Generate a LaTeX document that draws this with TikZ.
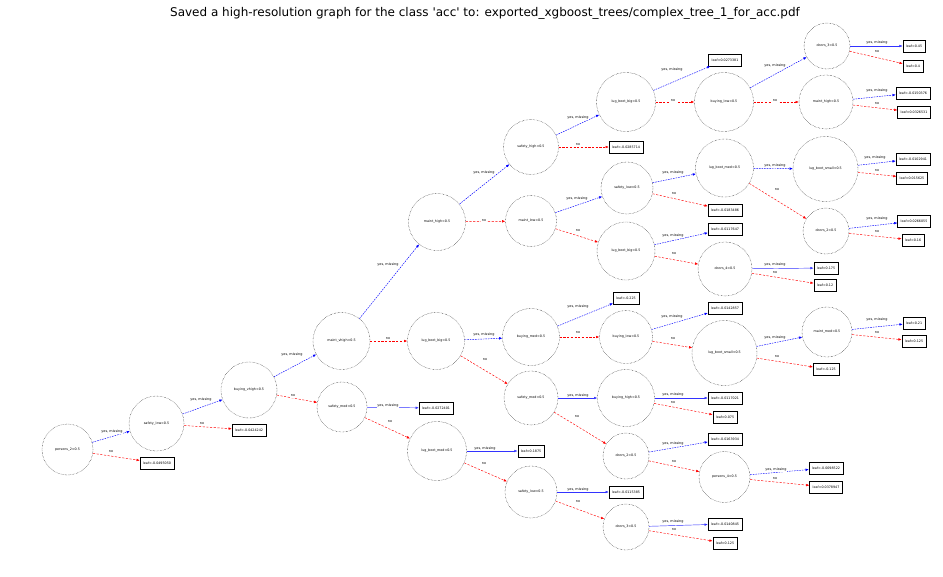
\documentclass[tikz,border=0pt]{standalone}
\usepackage{fontspec}
\setmainfont{DejaVu Sans}
\usetikzlibrary{arrows.meta}
\newcommand\nodefont{\fontsize{3.3}{3.6}\selectfont}
\newcommand\lblfont{\fontsize{3.4}{3.8}\selectfont}
\newcommand\ylab[2]{\node[elab] (#1) at (#2) {yes, missing};}
\newcommand\nlab[2]{\node[elab] (#1) at (#2) {no};}
\begin{document}
\begin{tikzpicture}[x=1pt,y=-1pt,
  dec/.style={circle, draw=black, densely dotted, line width=0.4pt, minimum size=#1, inner sep=0pt, font=\nodefont},
  leaf/.style={rectangle, draw=black, line width=0.5pt, minimum height=12pt, inner xsep=3pt, inner ysep=0pt, font=\nodefont},
  yesE/.style={draw=blue, dash pattern=on 1.6pt off 1pt, line width=0.45pt, -{Latex[length=3.2pt,width=2.6pt]}},
  yesS/.style={draw=blue!80, line width=0.45pt, -{Latex[length=3.2pt,width=2.6pt]}},
  noE/.style={draw=red, dash pattern=on 2.2pt off 1.5pt, line width=0.45pt, -{Latex[length=3.2pt,width=2.6pt]}},
  elab/.style={font=\lblfont, inner sep=0.6pt, fill=white}]
\fill[white] (0,0) rectangle (943,576);
\useasboundingbox (0,0) rectangle (943,576);

\node[font=\fontsize{12}{14}\selectfont, inner sep=0pt] (title) at (485,13) {Saved a high-resolution graph for the class \textquotesingle acc\textquotesingle\ to: exported\_xgboost\_trees/complex\_tree\_1\_for\_acc.pdf};

% decision nodes
\node[dec=51] (n0) at (67.5,449.5) {persons\_2<0.5};
\node[dec=55] (n1) at (156.5,423.5) {safety\_low<0.5};
\node[dec=56] (n2) at (249,390) {buying\_vhigh<0.5};
\node[dec=57] (n3) at (341.5,341) {maint\_vhigh<0.5};
\node[dec=50] (n4) at (342,407) {safety\_med<0.5};
\node[dec=57] (n5) at (437,222) {maint\_high<0.5};
\node[dec=57] (n6) at (436,341) {lug\_boot\_big<0.5};
\node[dec=59] (n7) at (437,451) {lug\_boot\_med<0.5};
\node[dec=55] (n8) at (531,147) {safety\_high<0.5};
\node[dec=51] (n9) at (531,221) {maint\_low<0.5};
\node[dec=57] (n10) at (531,337) {buying\_med<0.5};
\node[dec=54] (n11) at (531,398) {safety\_med<0.5};
\node[dec=52] (n12) at (531,492) {safety\_low<0.5};
\node[dec=59] (n13) at (626,102) {lug\_boot\_big<0.5};
\node[dec=52] (n14) at (627,188) {safety\_low<0.5};
\node[dec=58] (n15) at (626,251) {lug\_boot\_big<0.5};
\node[dec=53] (n16) at (626,337) {buying\_low<0.5};
\node[dec=57] (n17) at (626,398) {buying\_high<0.5};
\node[dec=46] (n18) at (626,456) {doors\_2<0.5};
\node[dec=46] (n19) at (626,527) {doors\_3<0.5};
\node[dec=59] (n20) at (724,102) {buying\_low<0.5};
\node[dec=58] (n21) at (724.5,168) {lug\_boot\_med<0.5};
\node[dec=54] (n22) at (725,269) {doors\_4<0.5};
\node[dec=65] (n23) at (724.5,353) {lug\_boot\_small<0.5};
\node[dec=51] (n24) at (724.5,477) {persons\_4<0.5};
\node[dec=46] (n25) at (827,46) {doors\_3<0.5};
\node[dec=54] (n26) at (826,102) {maint\_high<0.5};
\node[dec=65] (n27) at (825.5,169) {lug\_boot\_small<0.5};
\node[dec=46] (n28) at (826,231) {doors\_2<0.5};
\node[dec=50] (n29) at (827,332) {maint\_med<0.5};

% leaves
\node[leaf] (l0) at (157,463) {leaf=-0.0495050};
\node[leaf] (l1) at (249,430) {leaf=-0.0424242};
\node[leaf] (l4) at (436,408) {leaf=-0.0272401};
\node[leaf] (l7) at (531,451) {leaf=0.1875};
\node[leaf] (l8) at (626,147) {leaf=-0.0285714};
\node[leaf] (l10) at (626,298) {leaf=-0.225};
\node[leaf] (l12) at (626,492) {leaf=-0.0115385};
\node[leaf] (l13) at (725,60) {leaf=0.0273381};
\node[leaf] (l14) at (725,210) {leaf=-0.0183486};
\node[leaf] (l15) at (725,229) {leaf=-0.0117647};
\node[leaf] (l16) at (725,308) {leaf=-0.0142857};
\node[leaf] (l17a) at (725,398) {leaf=-0.0117021};
\node[leaf] (l17b) at (725,417) {leaf=0.075};
\node[leaf] (l18) at (725,439) {leaf=-0.0163934};
\node[leaf] (l19a) at (725,524) {leaf=-0.0140845};
\node[leaf] (l19b) at (725,543) {leaf=0.125};
\node[leaf] (l22a) at (826,268) {leaf=0.175};
\node[leaf] (l22b) at (825,285) {leaf=0.12};
\node[leaf] (l23) at (826,369) {leaf=-0.125};
\node[leaf] (l24a) at (826,468) {leaf=-0.0098522};
\node[leaf] (l24b) at (826,487) {leaf=0.0378947};
\node[leaf] (l25a) at (914,46) {leaf=0.45};
\node[leaf] (l25b) at (913,66) {leaf=0.4};
\node[leaf] (l26a) at (913,93) {leaf=-0.0150376};
\node[leaf] (l26b) at (914,112) {leaf=0.0326531};
\node[leaf] (l27a) at (913,159) {leaf=-0.0102941};
\node[leaf] (l27b) at (912,178) {leaf=0.015625};
\node[leaf] (l28a) at (914,221) {leaf=0.0266055};
\node[leaf] (l28b) at (913,240) {leaf=0.16};
\node[leaf] (l29a) at (914,323) {leaf=0.21};
\node[leaf] (l29b) at (914,341) {leaf=0.125};

% edges
\draw[yesE] (n0) -- (n1);   \draw[noE] (n0) -- (l0);
\draw[yesE] (n1) -- (n2);   \draw[noE] (n1) -- (l1);
\draw[yesE] (n2) -- (n3);   \draw[noE] (n2) -- (n4);
\draw[yesE] (n3) -- (n5);   \draw[noE] (n3) -- (n6);
\draw[yesS] (n4) -- (l4);   \draw[noE] (n4) -- (n7);
\draw[yesE] (n5) -- (n8);   \draw[noE] (n5) -- (n9);
\draw[yesE] (n6) -- (n10);  \draw[noE] (n6) -- (n11);
\draw[yesS] (n7) -- (l7);   \draw[noE] (n7) -- (n12);
\draw[yesE] (n8) -- (n13);  \draw[noE] (n8) -- (l8);
\draw[yesE] (n9) -- (n14);  \draw[noE] (n9) -- (n15);
\draw[yesE] (n10) -- (l10); \draw[noE] (n10) -- (n16);
\draw[yesS] (n11) -- (n17); \draw[noE] (n11) -- (n18);
\draw[yesS] (n12) -- (l12); \draw[noE] (n12) -- (n19);
\draw[yesE] (n13) -- (l13); \draw[noE] (n13) -- (n20);
\draw[yesE] (n14) -- (n21); \draw[noE] (n14) -- (l14);
\draw[yesE] (n15) -- (l15); \draw[noE] (n15) -- (n22);
\draw[yesE] (n16) -- (l16); \draw[noE] (n16) -- (n23);
\draw[yesS] (n17) -- (l17a); \draw[noE] (n17) -- (l17b);
\draw[yesE] (n18) -- (l18); \draw[noE] (n18) -- (n24);
\draw[yesS] (n19) -- (l19a); \draw[noE] (n19) -- (l19b);
\draw[yesE] (n20) -- (n25); \draw[noE] (n20) -- (n26);
\draw[yesE] (n21) -- (n27); \draw[noE] (n21) -- (n28);
\draw[yesS] (n22) -- (l22a); \draw[noE] (n22) -- (l22b);
\draw[yesE] (n23) -- (n29); \draw[noE] (n23) -- (l23);
\draw[yesE] (n24) -- (l24a); \draw[noE] (n24) -- (l24b);
\draw[yesS] (n25) -- (l25a); \draw[noE] (n25) -- (l25b);
\draw[yesE] (n26) -- (l26a); \draw[noE] (n26) -- (l26b);
\draw[yesE] (n27) -- (l27a); \draw[noE] (n27) -- (l27b);
\draw[yesE] (n28) -- (l28a); \draw[noE] (n28) -- (l28b);
\draw[yesE] (n29) -- (l29a); \draw[noE] (n29) -- (l29b);

% edge labels
\ylab{y0}{112,432}   \nlab{m0}{111,452}
\ylab{y1}{201,400}   \nlab{m1}{202,424}
\ylab{y2}{292,355}   \nlab{m2}{293,396}
\ylab{y3}{388,265}   \nlab{m3}{388,339}
\ylab{y4}{388,406}   \nlab{m4}{390,422}
\ylab{y5}{484,173}   \nlab{m5}{484,221}
\ylab{y6}{484,335}   \nlab{m6}{485,360}
\ylab{y7}{485,449}   \nlab{m7}{484,464}
\ylab{y8}{578,118}   \nlab{m8}{578,145}
\ylab{y9}{577,199}   \nlab{m9}{578,231}
\ylab{y10}{578,307}  \nlab{m10}{578,333}
\ylab{y11}{578,396}  \nlab{m11}{577,417}
\ylab{y12}{578,490}  \nlab{m12}{578,502}
\ylab{y13}{672,70}   \nlab{m13}{673,101}
\ylab{y14}{673,173}  \nlab{m14}{674,194}
\ylab{y15}{673,236}  \nlab{m15}{674,254}
\ylab{y16}{672,317}  \nlab{m16}{673,339}
\ylab{y17}{673,395}  \nlab{m17}{673,403}
\ylab{y18}{673,444}  \nlab{m18}{674,462}
\ylab{y19}{673,522}  \nlab{m19}{674,530}
\ylab{y20}{775,66}   \nlab{m20}{775,101}
\ylab{y21}{775,166}  \nlab{m21}{777,190}
\ylab{y22}{775,265}  \nlab{m22}{775,273}
\ylab{y23}{775,338}  \nlab{m23}{777,357}
\ylab{y24}{776,470}  \nlab{m24}{775,479}
\ylab{y25}{877,43}   \nlab{m25}{877,52}
\ylab{y26}{877,91}   \nlab{m26}{877,104}
\ylab{y27}{875,158}  \nlab{m27}{877,171}
\ylab{y28}{877,219}  \nlab{m28}{877,232}
\ylab{y29}{877,320}  \nlab{m29}{877,333}
\end{tikzpicture}
\end{document}
